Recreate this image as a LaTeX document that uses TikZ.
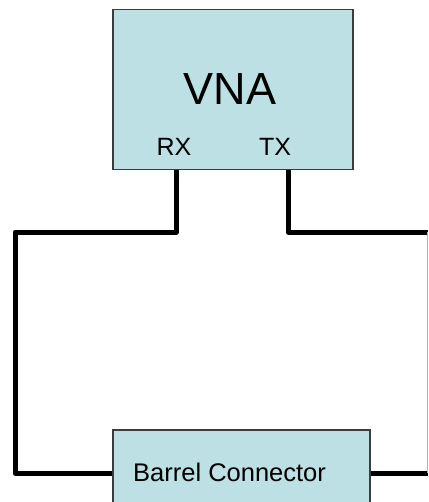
\documentclass[tikz,border=0pt]{standalone}
\usepackage{fontspec}
\setmainfont{Liberation Sans}
\definecolor{boxfill}{HTML}{BCE0E3}
\definecolor{boxline}{HTML}{3C3C3C}
\definecolor{edgegray}{HTML}{B4B4B4}
\begin{document}
\begin{tikzpicture}[x=1pt,y=-1pt,
  box/.style={draw=boxline, line width=1.5pt, fill=boxfill, inner sep=0pt},
  wire/.style={line width=5pt, line join=round, black},
  thinedge/.style={draw=edgegray, line width=1pt},
  bigtext/.style={font=\fontsize{45}{54}\selectfont, inner sep=0pt},
  smalltext/.style={font=\fontsize{25}{30}\selectfont, inner sep=0pt}]
\clip (0,0) rectangle (428,502);
\fill[white] (0,0) rectangle (428,502);
% boxes
\node[box, anchor=north west, minimum width=240pt, minimum height=160pt] (vna) at (112,9) {};
\node[box, anchor=north west, minimum width=257pt, minimum height=110pt] (barrel) at (112,429) {};
% labels
\node[bigtext, anchor=base] (vnalabel) at (230,105) {VNA};
\node[smalltext, anchor=base] (rx) at (174,156) {RX};
\node[smalltext, anchor=base] (tx) at (275,156) {TX};
\node[smalltext, anchor=base west, font=\fontsize{25.5}{30}\selectfont] (barrellabel) at (133,481) {Barrel Connector};
% wire coordinates
\coordinate (rxx) at (176,0);
\coordinate (txx) at (288,0);
\coordinate (lc) at (15,232);
\coordinate (bl) at (15,473);
\coordinate (rc) at (428,232);
\coordinate (br) at (428,473);
% wires
\draw[wire] (vna.south -| rxx) |- (lc) -- (bl) -- (bl -| barrel.west);
\draw[wire] (vna.south -| txx) |- (rc);
\draw[wire] (barrel.east |- br) -- (br);
\draw[thinedge] ([xshift=-0.5pt]rc) -- ([xshift=-0.5pt]br);
\end{tikzpicture}
\end{document}
